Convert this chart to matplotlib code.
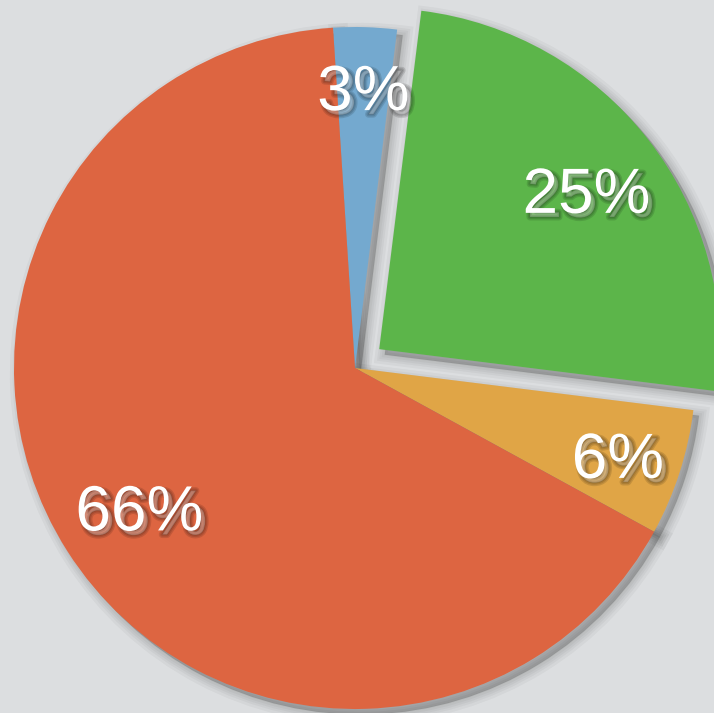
import numpy as np
import matplotlib
matplotlib.use("Agg")
import matplotlib.pyplot as plt
import matplotlib.patheffects as pe
from matplotlib.patches import Wedge

# data (clockwise from top)
labels = ["Blue", "Green", "Orange", "Red"]
shares = [3, 25, 6, 66]
colors = ["#74a9cf", "#5cb54a", "#e0a546", "#dd6541"]
explode = [0, 0.09, 0, 0]
label_dist = [0.83, 0.77, 0.81, 0.75]

W, H = 714, 713
fig = plt.figure(figsize=(W / 100, H / 100), dpi=100)
fig.patch.set_facecolor("#dcdee0")
ax = fig.add_axes([0, 0, 1, 1])
ax.set_facecolor("#dcdee0")
ax.axis("off")

# pie centre at pixel (355, 368) from top-left, radius 341 px
cx, cy, rpx = 355, 368, 341

wedges, texts = ax.pie(
    shares, colors=colors, explode=explode, startangle=93.7,
    counterclock=False, radius=1.0,
    wedgeprops=dict(linewidth=0, zorder=3), frame=False,
)

# soft drop shadow drawn beneath the wedges (offset, no face at origin)
soft = [pe.Stroke(linewidth=lw, foreground="#000000", alpha=0.035, offset=(4, -4))
        for lw in (14, 10, 7, 4, 1)]
soft.append(pe.SimplePatchShadow(offset=(4, -4), shadow_rgbFace="#000000", alpha=0.2))
for w in wedges:
    sh = Wedge(w.center, w.r, w.theta1, w.theta2, facecolor="none",
               edgecolor="none", linewidth=0, zorder=1)
    sh.set_path_effects(soft)
    ax.add_patch(sh)

text_shadow = [pe.Stroke(linewidth=lw, foreground="#000000", alpha=0.12, offset=(3, -3))
               for lw in (5, 3, 1)]
dy = -8 / rpx
for w, d, s in zip(wedges, label_dist, shares):
    ang = np.deg2rad((w.theta1 + w.theta2) / 2)
    x0, y0 = w.center
    ax.text(x0 + d * np.cos(ang), y0 + d * np.sin(ang) + dy, f"{s}%",
            ha="center", va="center", color="white", fontsize=46,
            family=["Liberation Sans", "DejaVu Sans"], zorder=5,
            path_effects=text_shadow + [pe.Normal()])

ax.set_xlim(-cx / rpx, (W - cx) / rpx)
ax.set_ylim(-(H - cy) / rpx, cy / rpx)
ax.set_aspect("auto")

fig.savefig("out.png", dpi=100, facecolor=fig.get_facecolor())
